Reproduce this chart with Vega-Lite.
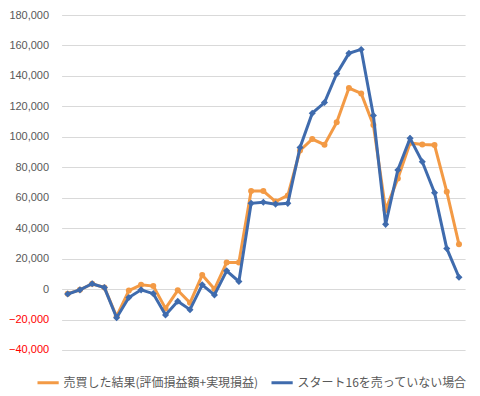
{
  "$schema": "https://vega.github.io/schema/vega-lite/v6.json",
  "width": 403.5,
  "height": 335,
  "autosize": {"type": "none"},
  "padding": {"left": 61.6, "top": 15, "right": 15, "bottom": 46},
  "background": "white",
  "config": {"view": {"stroke": null}},
  "data": {
    "values": [
      {"i": 0, "s": "売買した結果(評価損益額+実現損益)", "v": -3000},
      {"i": 1, "s": "売買した結果(評価損益額+実現損益)", "v": -500},
      {"i": 2, "s": "売買した結果(評価損益額+実現損益)", "v": 3500},
      {"i": 3, "s": "売買した結果(評価損益額+実現損益)", "v": 1000},
      {"i": 4, "s": "売買した結果(評価損益額+実現損益)", "v": -18000},
      {"i": 5, "s": "売買した結果(評価損益額+実現損益)", "v": -1000},
      {"i": 6, "s": "売買した結果(評価損益額+実現損益)", "v": 2800},
      {"i": 7, "s": "売買した結果(評価損益額+実現損益)", "v": 2000},
      {"i": 8, "s": "売買した結果(評価損益額+実現損益)", "v": -12700},
      {"i": 9, "s": "売買した結果(評価損益額+実現損益)", "v": -800},
      {"i": 10, "s": "売買した結果(評価損益額+実現損益)", "v": -9000},
      {"i": 11, "s": "売買した結果(評価損益額+実現損益)", "v": 9200},
      {"i": 12, "s": "売買した結果(評価損益額+実現損益)", "v": 0},
      {"i": 13, "s": "売買した結果(評価損益額+実現損益)", "v": 17500},
      {"i": 14, "s": "売買した結果(評価損益額+実現損益)", "v": 17500},
      {"i": 15, "s": "売買した結果(評価損益額+実現損益)", "v": 64400},
      {"i": 16, "s": "売買した結果(評価損益額+実現損益)", "v": 64400},
      {"i": 17, "s": "売買した結果(評価損益額+実現損益)", "v": 57500},
      {"i": 18, "s": "売買した結果(評価損益額+実現損益)", "v": 61500},
      {"i": 19, "s": "売買した結果(評価損益額+実現損益)", "v": 91000},
      {"i": 20, "s": "売買した結果(評価損益額+実現損益)", "v": 98500},
      {"i": 21, "s": "売買した結果(評価損益額+実現損益)", "v": 94800},
      {"i": 22, "s": "売買した結果(評価損益額+実現損益)", "v": 109500},
      {"i": 23, "s": "売買した結果(評価損益額+実現損益)", "v": 132000},
      {"i": 24, "s": "売買した結果(評価損益額+実現損益)", "v": 128500},
      {"i": 25, "s": "売買した結果(評価損益額+実現損益)", "v": 107700},
      {"i": 26, "s": "売買した結果(評価損益額+実現損益)", "v": 51900},
      {"i": 27, "s": "売買した結果(評価損益額+実現損益)", "v": 72700},
      {"i": 28, "s": "売買した結果(評価損益額+実現損益)", "v": 96000},
      {"i": 29, "s": "売買した結果(評価損益額+実現損益)", "v": 95000},
      {"i": 30, "s": "売買した結果(評価損益額+実現損益)", "v": 94600},
      {"i": 31, "s": "売買した結果(評価損益額+実現損益)", "v": 64000},
      {"i": 32, "s": "売買した結果(評価損益額+実現損益)", "v": 29400},
      {"i": 0, "s": "スタート16を売っていない場合", "v": -3200},
      {"i": 1, "s": "スタート16を売っていない場合", "v": -500},
      {"i": 2, "s": "スタート16を売っていない場合", "v": 3500},
      {"i": 3, "s": "スタート16を売っていない場合", "v": 1000},
      {"i": 4, "s": "スタート16を売っていない場合", "v": -18800},
      {"i": 5, "s": "スタート16を売っていない場合", "v": -5500},
      {"i": 6, "s": "スタート16を売っていない場合", "v": -500},
      {"i": 7, "s": "スタート16を売っていない場合", "v": -3000},
      {"i": 8, "s": "スタート16を売っていない場合", "v": -17000},
      {"i": 9, "s": "スタート16を売っていない場合", "v": -8000},
      {"i": 10, "s": "スタート16を売っていない場合", "v": -13500},
      {"i": 11, "s": "スタート16を売っていない場合", "v": 2800},
      {"i": 12, "s": "スタート16を売っていない場合", "v": -3800},
      {"i": 13, "s": "スタート16を売っていない場合", "v": 12000},
      {"i": 14, "s": "スタート16を売っていない場合", "v": 5000},
      {"i": 15, "s": "スタート16を売っていない場合", "v": 56300},
      {"i": 16, "s": "スタート16を売っていない場合", "v": 57000},
      {"i": 17, "s": "スタート16を売っていない場合", "v": 55800},
      {"i": 18, "s": "スタート16を売っていない場合", "v": 56300},
      {"i": 19, "s": "スタート16を売っていない場合", "v": 93000},
      {"i": 20, "s": "スタート16を売っていない場合", "v": 115500},
      {"i": 21, "s": "スタート16を売っていない場合", "v": 122500},
      {"i": 22, "s": "スタート16を売っていない場合", "v": 141500},
      {"i": 23, "s": "スタート16を売っていない場合", "v": 154800},
      {"i": 24, "s": "スタート16を売っていない場合", "v": 157400},
      {"i": 25, "s": "スタート16を売っていない場合", "v": 114000},
      {"i": 26, "s": "スタート16を売っていない場合", "v": 42500},
      {"i": 27, "s": "スタート16を売っていない場合", "v": 78200},
      {"i": 28, "s": "スタート16を売っていない場合", "v": 99000},
      {"i": 29, "s": "スタート16を売っていない場合", "v": 83600},
      {"i": 30, "s": "スタート16を売っていない場合", "v": 63300},
      {"i": 31, "s": "スタート16を売っていない場合", "v": 26700},
      {"i": 32, "s": "スタート16を売っていない場合", "v": 7800}
    ]
  },
  "encoding": {
    "x": {"field": "i", "type": "ordinal", "scale": {"type": "point", "padding": 0.5}, "axis": null},
    "y": {
      "field": "v", "type": "quantitative",
      "scale": {"domain": [-40000, 180000], "nice": false, "zero": false},
      "axis": {
        "title": null,
        "values": [-40000, -20000, 0, 20000, 40000, 60000, 80000, 100000, 120000, 140000, 160000, 180000],
        "format": ",.0f",
        "domain": false,
        "ticks": false,
        "labelPadding": 13,
        "labelFont": "Liberation Sans",
        "labelFontSize": 11,
        "labelColor": {"condition": {"test": "datum.value < 0", "value": "#FF0000"}, "value": "#595959"},
        "gridColor": "#D9D9D9",
        "gridWidth": 1
      }
    }
  },
  "layer": [
    {
      "transform": [{"filter": "datum.s === '売買した結果(評価損益額+実現損益)'"}],
      "mark": {"type": "line", "strokeWidth": 3, "color": "#F39A45"},
      "encoding": {}
    },
    {
      "transform": [{"filter": "datum.s === '売買した結果(評価損益額+実現損益)'"}],
      "mark": {"type": "point", "filled": true, "opacity": 1, "shape": "circle", "size": 36, "color": "#F39A45"},
      "encoding": {}
    },
    {
      "transform": [{"filter": "datum.s === 'スタート16を売っていない場合'"}],
      "mark": {"type": "line", "strokeWidth": 3},
      "encoding": {
        "color": {
          "field": "s", "type": "nominal",
          "scale": {"domain": ["売買した結果(評価損益額+実現損益)", "スタート16を売っていない場合"], "range": ["#F39A45", "#3F6BAD"]},
          "legend": {
            "title": null, "orient": "none", "direction": "horizontal",
            "legendX": -26, "legendY": 355,
            "symbolType": "stroke", "symbolStrokeWidth": 3, "symbolSize": 450,
            "labelFont": "Noto Sans CJK JP", "labelFontSize": 12, "labelColor": "#595959",
            "columnPadding": 6, "labelLimit": 300, "labelOffset": 3
          }
        }
      }
    },
    {
      "transform": [{"filter": "datum.s === 'スタート16を売っていない場合'"}],
      "mark": {"type": "point", "filled": true, "opacity": 1, "shape": "diamond", "size": 50, "color": "#3F6BAD"},
      "encoding": {}
    }
  ]
}
